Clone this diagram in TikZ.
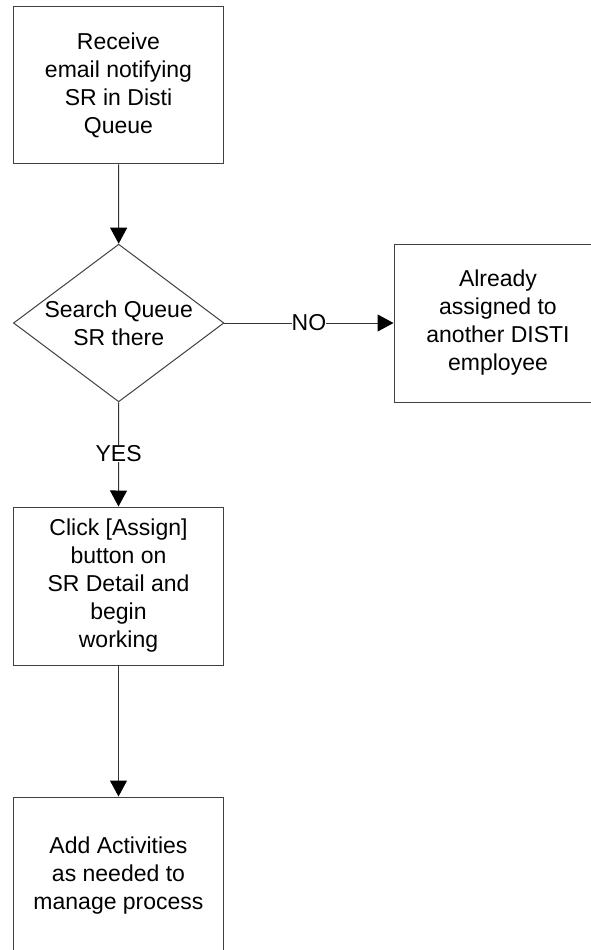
\documentclass[tikz,border=0pt]{standalone}
\usepackage{fontspec}
\setmainfont{Liberation Sans}
\usetikzlibrary{arrows.meta,shapes.geometric}
\begin{document}
\begin{tikzpicture}[x=1pt,y=-1pt,
  every node/.style={font=\fontsize{23}{28}\selectfont},
  procbox/.style={draw=black!75,line width=1pt,rectangle,inner sep=0pt,
    minimum width=209.5pt,minimum height=157pt,align=center},
  decision/.style={draw=black!75,line width=1pt,diamond,inner sep=0pt,
    minimum width=210.5pt,minimum height=157.7pt},
  flow/.style={draw=black!80,line width=1pt,
    -{Triangle[length=16pt,width=17pt,color=black,fill=black]}},
  edgelabel/.style={fill=white,inner sep=0pt}]
  \useasboundingbox (0,0) rectangle (591,950);
  \clip (0,0) rectangle (591,950);
  \node[procbox] (receive) at (118.5,85.3) {Receive\\email notifying\\SR in Disti\\Queue};
  \node[decision,label={[align=center,font=\fontsize{23}{28}\selectfont]center:Search Queue\\SR there}] (search) at (118.7,323) {};
  \node[procbox,minimum width=208pt,minimum height=158pt] (already) at (498,323) {Already\\assigned to\\another DISTI\\employee};
  \node[procbox,minimum height=158pt] (assign) at (118.5,586) {Click [Assign]\\button on\\SR Detail and\\begin\\working};
  \node[procbox,minimum height=158pt] (activities) at (118.5,876) {Add Activities\\as needed to\\manage process};
  \draw[flow] (receive.south) -- (search.north);
  \draw[flow] (search.east) -- node[edgelabel] (no) {NO} (already.west);
  \draw[flow] (search.south) -- node[edgelabel,pos=0.49] (yes) {YES} (assign.north);
  \draw[flow] (assign.south) -- (activities.north);
\end{tikzpicture}
\end{document}
